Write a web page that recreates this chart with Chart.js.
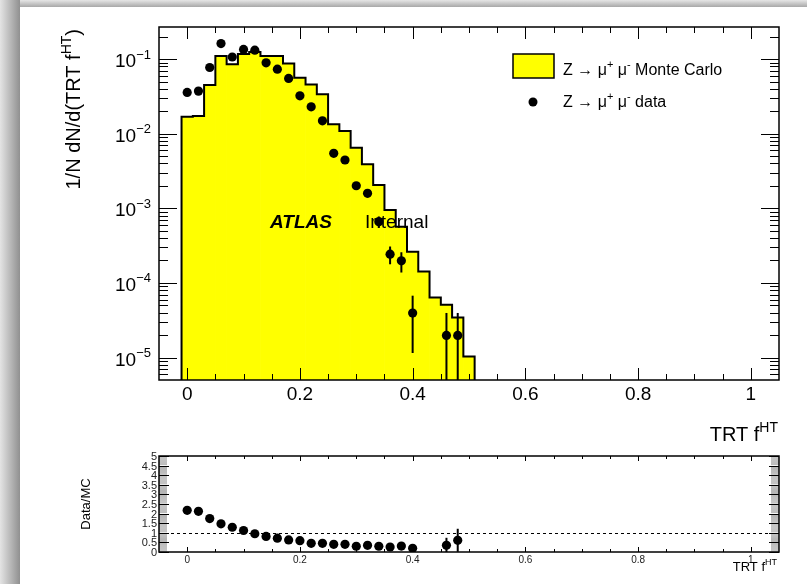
<!DOCTYPE html>
<html><head><meta charset="utf-8">
<title>TRT fHT</title>
<script src="https://cdn.jsdelivr.net/npm/chart.js@4.4.1/dist/chart.umd.min.js"></script>
<style>
html,body{margin:0;padding:0;background:#fff;width:807px;height:584px;overflow:hidden;position:relative}
#shT{position:absolute;left:0;top:0;width:807px;height:7px;background:linear-gradient(to bottom,#e6e6e6,#a8a8a8)}
#shL{position:absolute;left:0;top:0;width:20px;height:584px;background:linear-gradient(to right,#e4e4e4,#909090)}
canvas{position:absolute;left:0;top:0}
</style></head>
<body>
<div id="shT"></div><div id="shL"></div>
<canvas id="cMain" width="807" height="584"></canvas>
<canvas id="cRatio" width="807" height="584"></canvas>
<script>
const FONT = "'Liberation Sans', Arial, Helvetica, sans-serif";

// ---- data (bin centres of TRT fHT, width 0.02) ----
const binCenters = [0.00,0.02,0.04,0.06,0.08,0.10,0.12,0.14,0.16,0.18,0.20,0.22,0.24,0.26,0.28,0.30,0.32,0.34,0.36,0.38,0.40,0.42,0.44,0.46,0.48,0.50];
const mcValues   = [0.0169,0.0173,0.0449,0.110,0.0857,0.117,0.125,0.110,0.110,0.0876,0.0565,0.0458,0.0338,0.0134,0.0109,0.0065,0.00389,0.00206,0.000952,0.000569,0.000263,0.000142,6.4e-5,5.1e-5,3.44e-5,1.03e-5];
const dataValues = [0.0358,0.0373,0.0774,0.162,0.107,0.135,0.132,0.0893,0.0735,0.0552,0.0323,0.0230,0.0149,0.00547,0.00445,0.00201,0.00159,0.000664,0.000243,0.000198,3.95e-5,null,null,1.98e-5,1.98e-5,null];
const dataErrors = [0.0008,0.0008,0.0012,0.0017,0.0014,0.0016,0.0016,0.0013,0.0012,0.001,0.0008,0.0007,0.0005,0.0003,0.0003,0.0002,0.00018,0.000115,0.000065,0.00006,2.8e-5,null,null,1.98e-5,1.98e-5,null];
const ratioValues = [2.17,2.12,1.74,1.47,1.29,1.12,0.95,0.81,0.72,0.63,0.59,0.45,0.45,0.40,0.40,0.30,0.35,0.30,0.26,0.31,0.19,null,null,0.35,0.61,null];
const ratioErrors = [0.03,0.03,0.03,0.03,0.02,0.02,0.02,0.02,0.02,0.02,0.02,0.02,0.02,0.03,0.03,0.03,0.04,0.05,0.08,0.09,0.13,null,null,0.39,0.60,null];

// ---- tick labels / texts ----
const xTickValues = [0,0.2,0.4,0.6,0.8,1];
const xTickLabels = ['0','0.2','0.4','0.6','0.8','1'];
const yDecades = [-1,-2,-3,-4,-5];
const ratioYTicks = [0,0.5,1,1.5,2,2.5,3,3.5,4,4.5,5];
const ratioYLabels = ['0','0.5','1','1.5','2','2.5','3','3.5','4','4.5','5'];
const legendMC = [['Z \u2192 \u03bc',0],['+',1],[' \u03bc',0],['-',1],[' Monte Carlo',0]];
const legendData = [['Z \u2192 \u03bc',0],['+',1],[' \u03bc',0],['-',1],[' data',0]];
const xTitle = [['TRT f',0],['HT',1]];
const yTitle = [['1/N dN/d(TRT f',0],['HT',1],[')',0]];

function rich(ctx, parts, x, y, size, align, style) {
  style = style || '';
  let w = 0; const ws = [];
  ctx.textAlign = 'left'; ctx.textBaseline = 'alphabetic';
  for (const [t, s] of parts) {
    ctx.font = style + (s ? Math.round(size*0.68) : size) + 'px ' + FONT;
    const ww = ctx.measureText(t).width; ws.push(ww); w += ww;
  }
  let cx = align === 'right' ? x - w : (align === 'center' ? x - w/2 : x);
  parts.forEach(([t, s], i) => {
    ctx.font = style + (s ? Math.round(size*0.68) : size) + 'px ' + FONT;
    ctx.fillText(t, cx, s ? y - size*0.45 : y);
    cx += ws[i];
  });
}

function clipArea(ctx, a){ ctx.beginPath(); ctx.rect(a.left, a.top, a.right-a.left, a.bottom-a.top); ctx.clip(); }

const mainPlugin = {
  id: 'mainDecor',
  beforeDatasetDraw(chart, args) {
    if (args.index !== 1) return;
    const {ctx, chartArea: a, scales: {x, y}} = chart;
    ctx.save(); clipArea(ctx, a);
    ctx.strokeStyle = '#000'; ctx.lineWidth = 2;
    binCenters.forEach((c, i) => {
      const v = dataValues[i], e = dataErrors[i];
      if (v == null || !e) return;
      const px = x.getPixelForValue(c);
      const top = y.getPixelForValue(v + e);
      const bot = v - e > 0 ? y.getPixelForValue(v - e) : a.bottom + 2;
      ctx.beginPath(); ctx.moveTo(px, top); ctx.lineTo(px, bot); ctx.stroke();
    });
    ctx.restore();
  },
  afterDatasetDraw(chart, args) {
    if (args.index !== 0) return;
    const {ctx, chartArea: a} = chart;
    const els = args.meta.data;
    ctx.save(); clipArea(ctx, a);
    ctx.strokeStyle = '#000'; ctx.lineWidth = 2; ctx.lineJoin = 'miter';
    ctx.beginPath();
    els.forEach((el, i) => {
      const p = el.getProps(['x','y','base','width'], true);
      const l = p.x - p.width/2, r = p.x + p.width/2;
      if (i === 0) { ctx.moveTo(l, a.bottom + 2); ctx.lineTo(l, p.y); }
      else ctx.lineTo(l, p.y);
      ctx.lineTo(r, p.y);
      if (i === els.length - 1) ctx.lineTo(r, a.bottom + 2);
    });
    ctx.stroke();
    ctx.restore();
  },
  afterDraw(chart) {
    const {ctx, chartArea: a, scales: {x, y}} = chart;
    ctx.save();
    ctx.strokeStyle = '#000'; ctx.lineWidth = 1;
    ctx.beginPath();
    for (let k = -1; k <= 21; k++) {
      const v = k * 0.05;
      const px = Math.round(x.getPixelForValue(v)) + 0.5;
      if (px < a.left + 1 || px > a.right - 1) continue;
      const L = (k % 4 === 0) ? 12 : 6;
      ctx.moveTo(px, a.bottom); ctx.lineTo(px, a.bottom - L);
      ctx.moveTo(px, a.top); ctx.lineTo(px, a.top + L);
    }
    for (let e = -6; e <= 0; e++) for (let m = 1; m <= 9; m++) {
      const v = m * Math.pow(10, e);
      if (v < y.min || v > y.max) continue;
      const py = Math.round(y.getPixelForValue(v)) + 0.5;
      const L = m === 1 ? 18 : 9;
      ctx.moveTo(a.left, py); ctx.lineTo(a.left + L, py);
      ctx.moveTo(a.right, py); ctx.lineTo(a.right - L, py);
    }
    ctx.stroke();
    ctx.lineWidth = 1.5;
    ctx.strokeRect(a.left, a.top, a.right - a.left, a.bottom - a.top);

    ctx.fillStyle = '#000';
    xTickValues.forEach((v, i) => rich(ctx, [[xTickLabels[i], 0]], x.getPixelForValue(v), 400, 19, 'center'));
    yDecades.forEach(e => {
      const py = y.getPixelForValue(Math.pow(10, e));
      rich(ctx, [['10', 0], ['\u2212' + (-e), 1]], 151, py + 8, 19, 'right');
    });
    rich(ctx, xTitle, 778, 441, 20, 'right');
    ctx.save(); ctx.translate(80, 29); ctx.rotate(-Math.PI/2);
    rich(ctx, yTitle, 0, 0, 20, 'right'); ctx.restore();

    // legend
    ctx.fillStyle = '#ffff00'; ctx.fillRect(513, 54, 41, 24);
    ctx.strokeStyle = '#000'; ctx.lineWidth = 1.5; ctx.strokeRect(513, 54, 41, 24);
    ctx.fillStyle = '#000';
    rich(ctx, legendMC, 563, 75, 16, 'left');
    ctx.beginPath(); ctx.arc(533, 102, 4.5, 0, 2*Math.PI); ctx.fill();
    rich(ctx, legendData, 563, 107, 16, 'left');

    // ATLAS label
    rich(ctx, [['ATLAS', 0]], 270, 228, 19, 'left', 'italic bold ');
    rich(ctx, [['Internal', 0]], 365, 228, 19, 'left');
    ctx.restore();
  }
};

new Chart(document.getElementById('cMain'), {
  type: 'bar',
  data: {
    datasets: [
      { type: 'bar', label: 'Z \u2192 \u03bc+\u03bc- Monte Carlo', order: 2,
        data: binCenters.map((c, i) => ({x: c, y: mcValues[i]})),
        backgroundColor: '#ffff00', borderWidth: 0, barPercentage: 1, categoryPercentage: 1 },
      { type: 'scatter', label: 'Z \u2192 \u03bc+\u03bc- data', order: 1,
        data: binCenters.map((c, i) => ({x: c, y: dataValues[i]})),
        backgroundColor: '#000', borderColor: '#000', pointRadius: 4.6, pointBorderWidth: 0, pointHoverRadius: 4.6 }
    ]
  },
  options: {
    responsive: false, animation: false, devicePixelRatio: 1,
    layout: {padding: {left: 159, top: 27, right: 28, bottom: 204}},
    scales: {
      x: {type: 'linear', min: -0.05, max: 1.05, offset: false, display: false, ticks: {stepSize: 0.2}},
      y: {type: 'logarithmic', min: 5e-6, max: 0.27, display: false}
    },
    plugins: {legend: {display: false}, tooltip: {enabled: false}}
  },
  plugins: [mainPlugin]
});

const ratioPlugin = {
  id: 'ratioDecor',
  beforeDatasetsDraw(chart) {
    const {ctx, chartArea: a, scales: {x, y}} = chart;
    ctx.save(); clipArea(ctx, a);
    ctx.strokeStyle = '#000'; ctx.lineWidth = 1; ctx.setLineDash([3, 3]);
    const p1 = Math.round(y.getPixelForValue(1)) + 0.5;
    ctx.beginPath(); ctx.moveTo(a.left, p1); ctx.lineTo(a.right, p1); ctx.stroke();
    ctx.setLineDash([]); ctx.lineWidth = 2;
    binCenters.forEach((c, i) => {
      const v = ratioValues[i], e = ratioErrors[i];
      if (v == null || !e) return;
      const px = x.getPixelForValue(c);
      const top = y.getPixelForValue(v + e);
      const bot = v - e > 0 ? y.getPixelForValue(v - e) : a.bottom + 2;
      ctx.beginPath(); ctx.moveTo(px, top); ctx.lineTo(px, bot); ctx.stroke();
    });
    ctx.restore();
  },
  afterDraw(chart) {
    const {ctx, chartArea: a, scales: {x, y}} = chart;
    ctx.save();
    ctx.lineWidth = 1;
    // minor y ticks (dense)
    ctx.strokeStyle = '#b4b4b4';
    ctx.beginPath();
    for (let k = 1; k < 100; k++) {
      if (k % 10 === 0) continue;
      const py = y.getPixelForValue(k * 0.05);
      ctx.moveTo(a.left, py); ctx.lineTo(a.left + 8, py);
      ctx.moveTo(a.right, py); ctx.lineTo(a.right - 8, py);
    }
    ctx.stroke();
    ctx.strokeStyle = '#000';
    ctx.beginPath();
    ratioYTicks.forEach(v => {
      const py = Math.round(y.getPixelForValue(v)) + 0.5;
      ctx.moveTo(a.left, py); ctx.lineTo(a.left + 10, py);
      ctx.moveTo(a.right, py); ctx.lineTo(a.right - 10, py);
    });
    for (let k = -1; k <= 21; k++) {
      const px = Math.round(x.getPixelForValue(k * 0.05)) + 0.5;
      if (px < a.left + 1 || px > a.right - 1) continue;
      const L = (k % 4 === 0) ? 5 : 3;
      ctx.moveTo(px, a.bottom); ctx.lineTo(px, a.bottom - L);
      ctx.moveTo(px, a.top); ctx.lineTo(px, a.top + L);
    }
    ctx.stroke();
    ctx.lineWidth = 1.5;
    ctx.strokeRect(a.left, a.top, a.right - a.left, a.bottom - a.top);

    ctx.fillStyle = '#222';
    ratioYTicks.forEach((v, i) => rich(ctx, [[ratioYLabels[i], 0]], 157, y.getPixelForValue(v) + 4, 11, 'right'));
    xTickValues.forEach((v, i) => rich(ctx, [[xTickLabels[i], 0]], x.getPixelForValue(v), 563, 10, 'center'));
    ctx.fillStyle = '#000';
    rich(ctx, xTitle, 777, 571, 13, 'right');
    ctx.save(); ctx.translate(90, 504); ctx.rotate(-Math.PI/2);
    rich(ctx, [['Data/MC', 0]], 0, 0, 13, 'center'); ctx.restore();
    ctx.restore();
  }
};

new Chart(document.getElementById('cRatio'), {
  type: 'scatter',
  data: {
    datasets: [
      { label: 'Data/MC', data: binCenters.map((c, i) => ({x: c, y: ratioValues[i]})),
        backgroundColor: '#000', borderColor: '#000', pointRadius: 4.6, pointBorderWidth: 0, pointHoverRadius: 4.6 }
    ]
  },
  options: {
    responsive: false, animation: false, devicePixelRatio: 1,
    layout: {padding: {left: 159, top: 456, right: 28, bottom: 32}},
    scales: {
      x: {type: 'linear', min: -0.05, max: 1.05, display: false},
      y: {type: 'linear', min: 0, max: 5, display: false}
    },
    plugins: {legend: {display: false}, tooltip: {enabled: false}}
  },
  plugins: [ratioPlugin]
});
</script>
</body></html>
